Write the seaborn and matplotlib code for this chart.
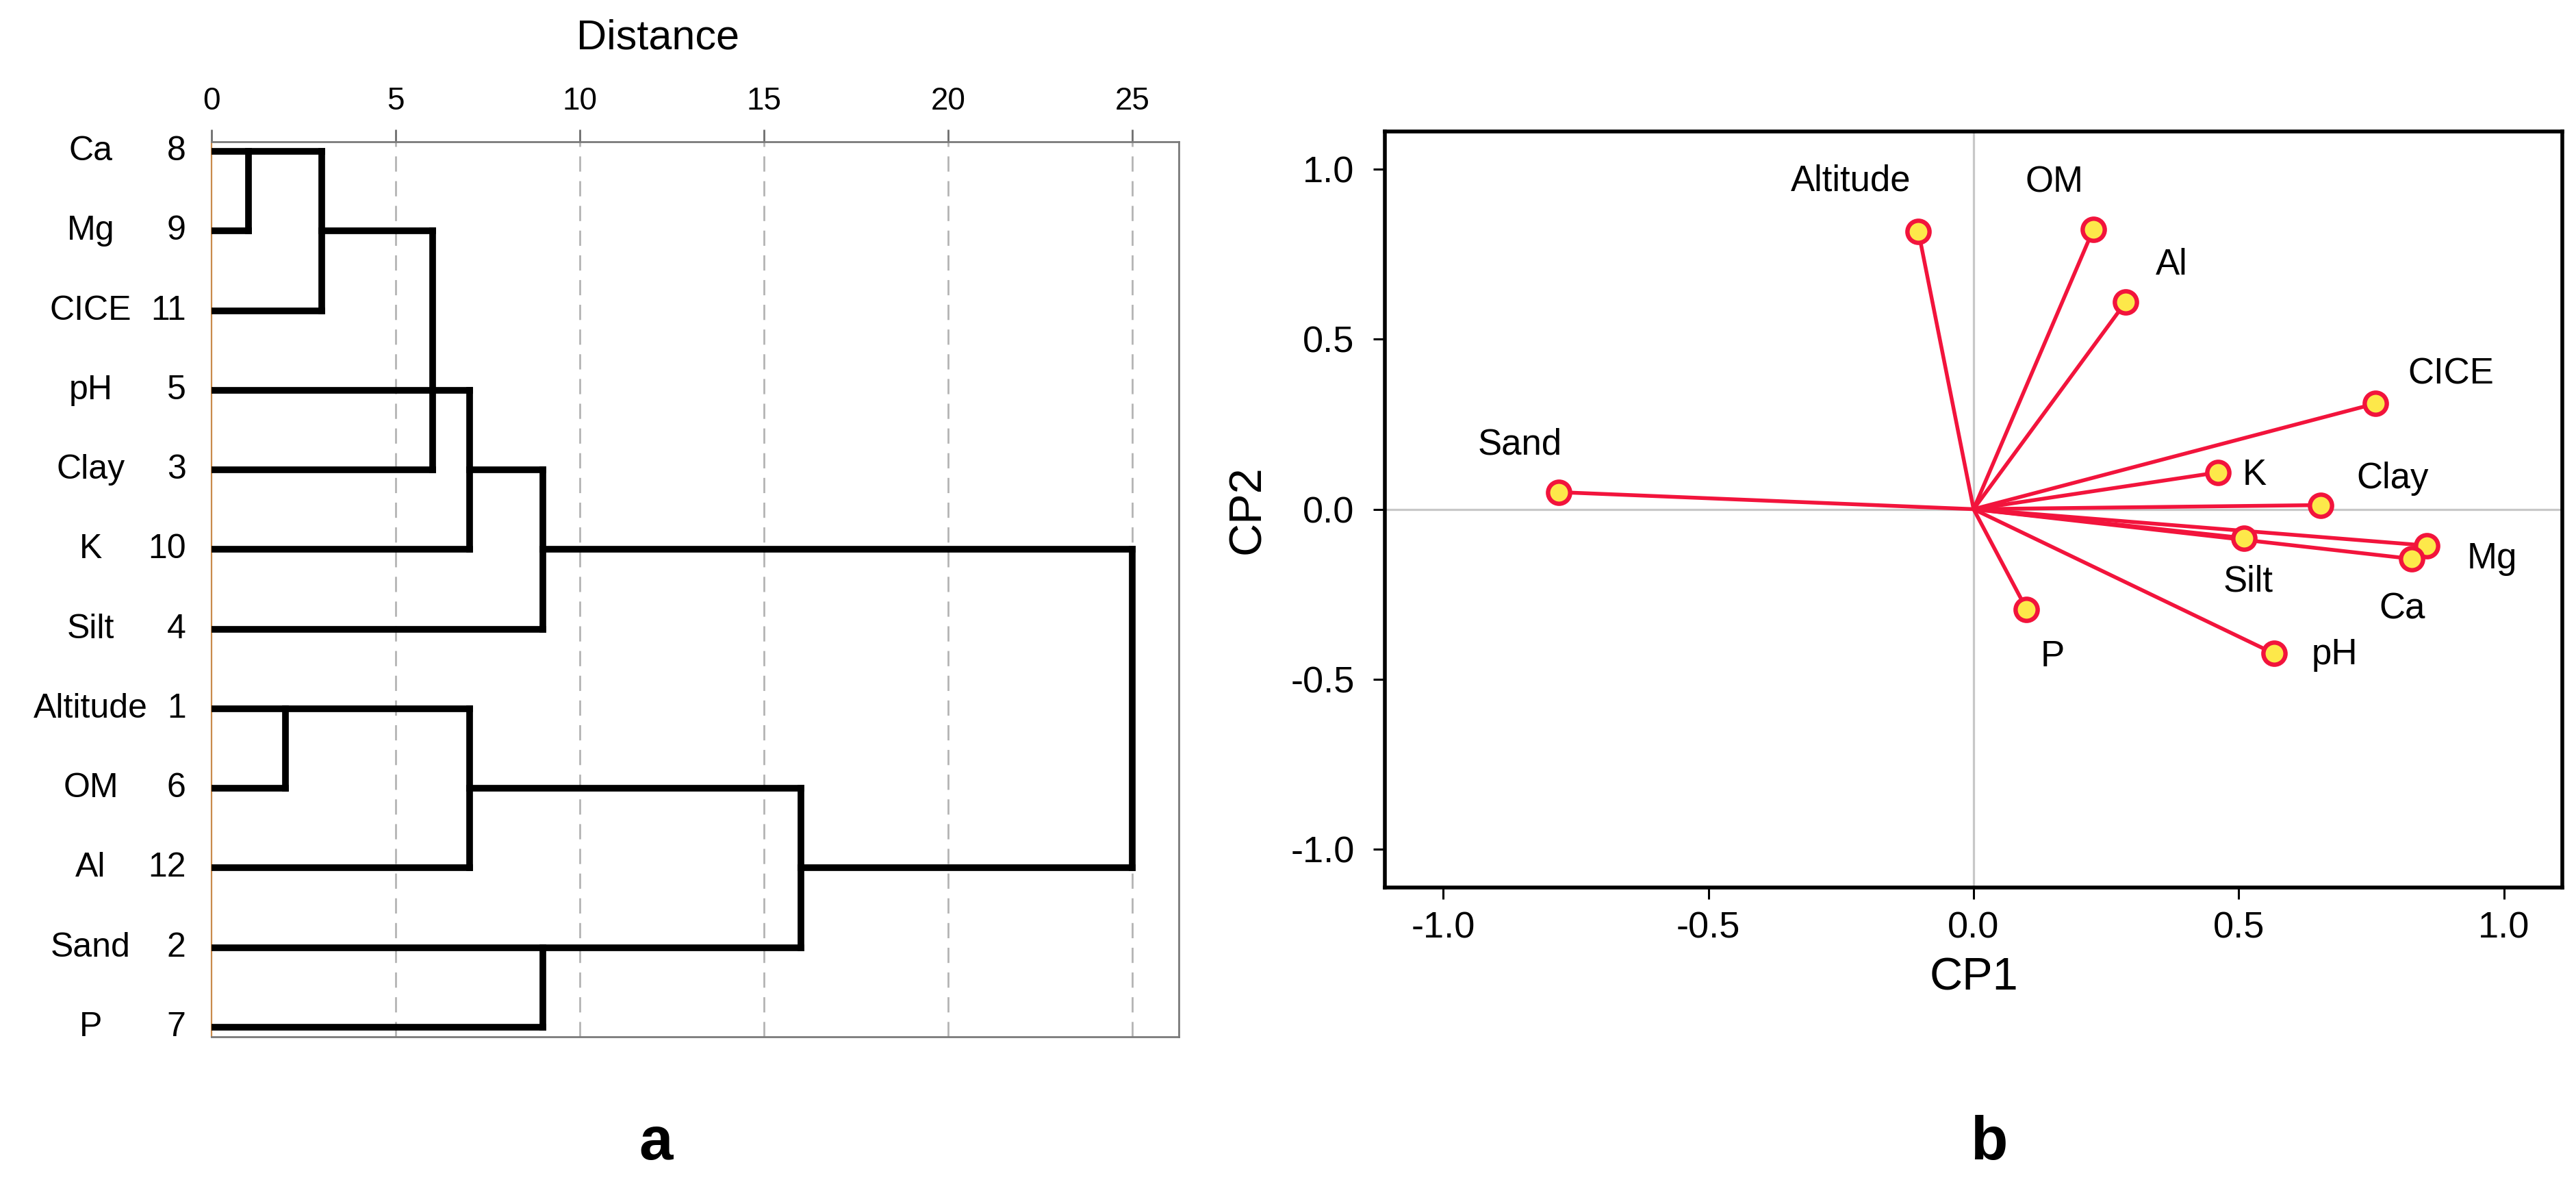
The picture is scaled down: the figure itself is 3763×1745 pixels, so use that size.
import numpy as np
import pandas as pd
import matplotlib
matplotlib.use("Agg")
import matplotlib.pyplot as plt
import seaborn as sns

# ---------------- data ----------------
# Dendrogram (panel a)
leaf_names = ['Ca', 'Mg', 'CICE', 'pH', 'Clay', 'K', 'Silt', 'Altitude', 'OM', 'Al', 'Sand', 'P']
leaf_ids = [8, 9, 11, 5, 3, 10, 4, 1, 6, 12, 2, 7]
# merges as drawn: row of first branch, its start distance, row of second branch, its start distance, merge distance
merge_row_a = [0, 0, 1, 3, 4, 7, 7, 10, 8, 5]
merge_from_a = [0.0, 1.0, 3.0, 0.0, 7.0, 0.0, 2.0, 0.0, 7.0, 9.0]
merge_row_b = [1, 2, 4, 5, 6, 8, 9, 11, 10, 9]
merge_from_b = [0.0, 0.0, 0.0, 0.0, 0.0, 0.0, 0.0, 0.0, 9.0, 16.0]
merge_dist = [1.0, 3.0, 6.0, 7.0, 9.0, 2.0, 7.0, 9.0, 16.0, 25.0]
dist_ticks = [0, 5, 10, 15, 20, 25]

# PCA loadings (panel b)
var_names = ['Sand', 'Altitude', 'OM', 'Al', 'CICE', 'K', 'Clay', 'Silt', 'Mg', 'Ca', 'P', 'pH']
cp1 = [-0.782, -0.104, 0.226, 0.287, 0.757, 0.461, 0.654, 0.510, 0.855, 0.826, 0.100, 0.566]
cp2 = [0.050, 0.816, 0.823, 0.609, 0.310, 0.108, 0.012, -0.085, -0.107, -0.146, -0.294, -0.424]
pc_ticks = [-1.0, -0.5, 0.0, 0.5, 1.0]
pc_ticklabels = ['-1.0', '-0.5', '0.0', '0.5', '1.0']

# ---------------- style ----------------
sns.set_theme(style='white')
plt.rcParams['font.family'] = ['Liberation Sans', 'DejaVu Sans']
plt.rcParams['text.color'] = 'black'
plt.rcParams['axes.labelcolor'] = 'black'
plt.rcParams['xtick.color'] = 'black'
plt.rcParams['ytick.color'] = 'black'

W, H = 3763, 1745
fig = plt.figure(figsize=(W / 100, H / 100), dpi=100)

# label offsets (points) for the PCA labels
label_offsets = {
    'Sand': (-41, 50), 'Altitude': (-71, 53), 'OM': (-41, 49), 'Al': (48, 39),
    'CICE': (80, 31), 'K': (38, -3), 'Clay': (76, 28), 'Silt': (4, -46),
    'Mg': (68, -14), 'Ca': (-10, -53), 'P': (27, -50), 'pH': (64, -1),
}

# ---------------- panel a: dendrogram ----------------
axL = fig.add_axes([309 / W, 1 - 1514 / H, (1722 - 309) / W, (1514 - 207) / H])

segs = []
sid = 0
for ra, fa, rb, fb, d in zip(merge_row_a, merge_from_a, merge_row_b, merge_from_b, merge_dist):
    segs += [(sid, fa, ra), (sid, d, ra)]; sid += 1
    segs += [(sid, fb, rb), (sid, d, rb)]; sid += 1
    segs += [(sid, d, ra), (sid, d, rb)]; sid += 1
seg_df = pd.DataFrame(segs, columns=['seg', 'dist', 'row'])

for xv in dist_ticks[1:]:
    axL.axvline(xv, color='#b4b4b4', lw=2.0, linestyle=(0, (8, 5)), zorder=1)

sns.lineplot(data=seg_df, x='dist', y='row', units='seg', estimator=None, sort=False,
             color='black', lw=7.0, ax=axL, zorder=3, legend=False,
             solid_capstyle='projecting')

axL.set_xlim(0, 26.26)
axL.set_ylim(11.12, -0.12)
axL.xaxis.tick_top()
axL.set_xticks(dist_ticks)
axL.set_xticklabels([str(t) for t in dist_ticks])
axL.tick_params(axis='x', which='both', top=True, bottom=False, length=13, width=2,
                color='#6e6e6e', labelsize=33, pad=14, labelcolor='black')
axL.set_yticks([])
axL.set_xlabel('')
axL.set_ylabel('')
for side in ['top', 'right', 'bottom']:
    axL.spines[side].set_color('#7a7a7a')
    axL.spines[side].set_linewidth(2.0)
    axL.spines[side].set_visible(True)
axL.spines['left'].set_color('#c98a4b')
axL.spines['left'].set_linewidth(1.6)
axL.spines['left'].set_visible(True)

ytr = axL.get_yaxis_transform()
for i, (nm, idn) in enumerate(zip(leaf_names, leaf_ids)):
    axL.annotate(nm, xy=(0, i), xycoords=ytr, xytext=(-127, 0), textcoords='offset points',
                 ha='center', va='center', fontsize=36, annotation_clip=False)
    axL.annotate(str(idn), xy=(0, i), xycoords=ytr, xytext=(-27, 0), textcoords='offset points',
                 ha='right', va='center', fontsize=36, annotation_clip=False)

fig.text(961 / W, 1 - 56 / H, 'Distance', ha='center', va='center', fontsize=44)

# ---------------- panel b: PCA loadings ----------------
axR = fig.add_axes([2023 / W, 1 - 1296 / H, (3743 - 2023) / W, (1296 - 191.5) / H])
axR.axhline(0, color='#c8c8c8', lw=2.3, zorder=1)
axR.axvline(0, color='#c8c8c8', lw=2.3, zorder=1)

vec = []
for k, (nm, a, b) in enumerate(zip(var_names, cp1, cp2)):
    vec += [(nm, 0.0, 0.0), (nm, a, b)]
vec_df = pd.DataFrame(vec, columns=['var', 'cp1', 'cp2'])
sns.lineplot(data=vec_df, x='cp1', y='cp2', units='var', estimator=None, sort=False,
             color='#f2143c', lw=4.0, ax=axR, zorder=2, legend=False)

pts_df = pd.DataFrame({'var': var_names, 'cp1': cp1, 'cp2': cp2})
sns.scatterplot(data=pts_df, x='cp1', y='cp2', s=540, color='#fde84a',
                edgecolor='#f2143c', linewidth=4.6, ax=axR, zorder=4, legend=False)

for nm, a, b in zip(var_names, cp1, cp2):
    dx, dy = label_offsets[nm]
    axR.annotate(nm, xy=(a, b), xytext=(dx, dy), textcoords='offset points',
                 ha='center', va='center', fontsize=38)

axR.set_xlim(-1.11, 1.11)
axR.set_ylim(-1.112, 1.111)
axR.set_xticks(pc_ticks)
axR.set_xticklabels(pc_ticklabels)
axR.set_yticks(pc_ticks)
axR.set_yticklabels(pc_ticklabels)
axR.tick_params(axis='both', which='both', bottom=True, left=True, length=12, width=2.2,
                color='black', labelsize=39)
axR.tick_params(axis='x', pad=13)
axR.tick_params(axis='y', pad=20)
axR.set_xlabel('CP1', fontsize=48, labelpad=12)
axR.set_ylabel('CP2', fontsize=48, labelpad=22)
for side in ['top', 'right', 'bottom', 'left']:
    axR.spines[side].set_color('black')
    axR.spines[side].set_linewidth(4)
    axR.spines[side].set_visible(True)

# panel letters
fig.text(958 / W, 1 - 1693 / H, 'a', ha='center', va='baseline', fontsize=64, fontweight='bold')
fig.text(2905 / W, 1 - 1693 / H, 'b', ha='center', va='baseline', fontsize=64, fontweight='bold')

fig.savefig('out.png', dpi=100, facecolor='white')
